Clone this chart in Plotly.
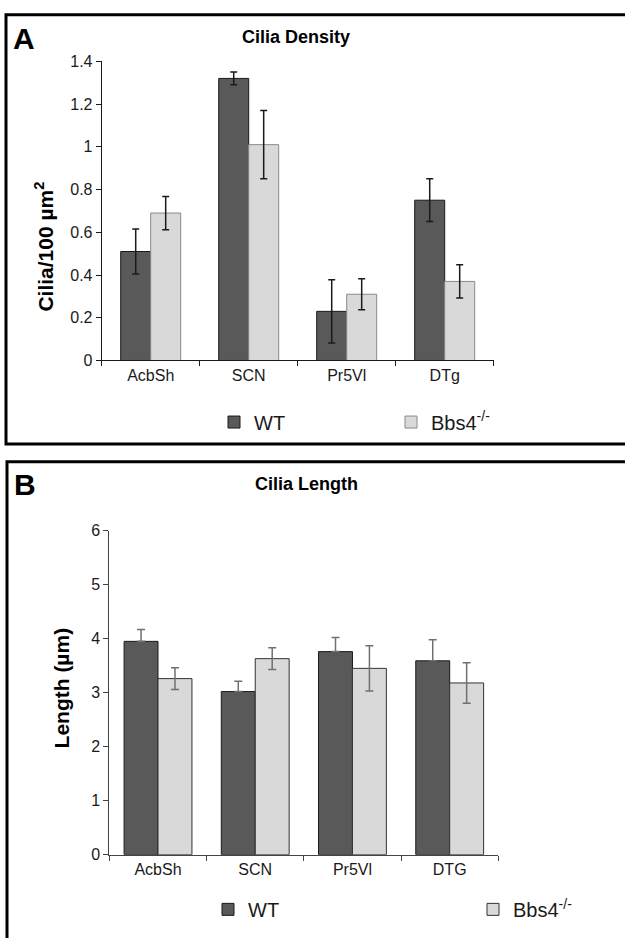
import plotly.graph_objects as go

# ---------------- data ----------------
categories_A = ["AcbSh", "SCN", "Pr5Vl", "DTg"]
density_wt = [0.51, 1.32, 0.23, 0.75]
density_wt_err = [0.105, 0.03, 0.148, 0.10]
density_bbs = [0.69, 1.01, 0.31, 0.37]
density_bbs_err = [0.078, 0.16, 0.072, 0.078]
yticks_A = [0, 0.2, 0.4, 0.6, 0.8, 1.0, 1.2, 1.4]
yticklabels_A = ["0", "0.2", "0.4", "0.6", "0.8", "1", "1.2", "1.4"]

categories_B = ["AcbSh", "SCN", "Pr5Vl", "DTG"]
length_wt = [3.95, 3.02, 3.76, 3.59]
length_wt_err = [0.22, 0.19, 0.26, 0.39]
length_bbs = [3.26, 3.63, 3.45, 3.18]
length_bbs_err = [0.20, 0.20, 0.42, 0.375]
yticks_B = [0, 1, 2, 3, 4, 5, 6]

series_names = ["WT", "Bbs4<sup>-/-</sup>"]

# ---------------- layout helpers ----------------
W, H = 625, 938
FONT = "Liberation Sans, Arial, sans-serif"


def px(x):
    return x / W


def py(y):
    return 1 - y / H


WT_FILL = "#595959"
KO_FILL = "#d9d9d9"

fig = go.Figure()

# Panel A bars
wA = 0.306
fig.add_trace(go.Bar(
    x=categories_A, y=density_wt, name=series_names[0], xaxis="x", yaxis="y",
    width=wA, offset=-wA,
    marker=dict(color=WT_FILL, line=dict(color="#1a1a1a", width=1)),
    error_y=dict(type="data", array=density_wt_err, color="#1a1a1a", thickness=1.5, width=3.5),
    legend="legend",
))
fig.add_trace(go.Bar(
    x=categories_A, y=density_bbs, name=series_names[1], xaxis="x", yaxis="y",
    width=wA, offset=0,
    marker=dict(color=KO_FILL, line=dict(color="#8a8a8a", width=1)),
    error_y=dict(type="data", array=density_bbs_err, color="#1a1a1a", thickness=1.5, width=3.5),
    legend="legend2",
))

# Panel B bars
wB = 0.349
fig.add_trace(go.Bar(
    x=categories_B, y=length_wt, name=series_names[0], xaxis="x2", yaxis="y2",
    width=wB, offset=-wB,
    marker=dict(color=WT_FILL, line=dict(color="#1a1a1a", width=1)),
    error_y=dict(type="data", symmetric=False, array=length_wt_err,
                 arrayminus=[0] * len(length_wt_err), color="#707070", thickness=1.5, width=4),
    legend="legend3",
))
fig.add_trace(go.Bar(
    x=categories_B, y=length_bbs, name=series_names[1], xaxis="x2", yaxis="y2",
    width=wB, offset=0,
    marker=dict(color=KO_FILL, line=dict(color="#333333", width=1)),
    error_y=dict(type="data", array=length_bbs_err, color="#707070", thickness=1.5, width=4),
    legend="legend4",
))

tickfont = dict(family=FONT, size=16, color="#1a1a1a")

xaxis_common = dict(
    type="category", tickson="boundaries", ticks="outside", ticklen=5,
    showline=True, linewidth=1, showgrid=False, zeroline=False,
    tickfont=tickfont, fixedrange=True,
)
yaxis_common = dict(
    ticks="outside", ticklen=5, showline=True, linewidth=1,
    showgrid=False, zeroline=False, tickfont=tickfont, fixedrange=True,
)

legend_font = dict(family=FONT, size=20, color="#1a1a1a")


def leg(xc, yc):
    # xc: symbol centre pixel, yc: vertical centre pixel
    return dict(x=px(xc - 20), y=py(yc), xanchor="left", yanchor="middle",
                orientation="h", font=legend_font, bgcolor="rgba(0,0,0,0)",
                borderwidth=0, itemclick=False, itemdoubleclick=False)


fig.update_layout(
    width=W, height=H,
    margin=dict(l=0, r=0, t=0, b=0),
    paper_bgcolor="white", plot_bgcolor="white",
    font=dict(family=FONT, color="#1a1a1a"),
    xaxis=dict(xaxis_common, domain=[px(101.7), px(493.7)], anchor="y",
               linecolor="#1a1a1a", tickcolor="#1a1a1a"),
    yaxis=dict(yaxis_common, domain=[py(359), py(54.3)], anchor="x",
               range=[0, 1.4], tickvals=yticks_A, ticktext=yticklabels_A,
               linecolor="#1a1a1a", tickcolor="#1a1a1a"),
    xaxis2=dict(xaxis_common, domain=[px(109.4), px(498.3)], anchor="y2",
                linecolor="#444444", tickcolor="#444444"),
    yaxis2=dict(yaxis_common, domain=[py(862.3), py(532.3)], anchor="x2",
                range=[0, 6], tickvals=yticks_B,
                linecolor="#444444", tickcolor="#444444"),
    showlegend=True,
    legend=leg(234, 421.7),
    legend2=leg(411, 421.7),
    legend3=leg(228, 918),
    legend4=leg(493, 918),
    bargap=0,
)

# panel frames
fig.add_shape(type="rect", xref="paper", yref="paper",
              x0=px(6), x1=px(640), y0=py(444), y1=py(7),
              line=dict(color="black", width=3), fillcolor="rgba(0,0,0,0)", layer="above")
fig.add_shape(type="rect", xref="paper", yref="paper",
              x0=px(7), x1=px(640), y0=py(960), y1=py(462),
              line=dict(color="black", width=3), fillcolor="rgba(0,0,0,0)", layer="above")

# annotations: panel letters, titles, y-axis titles
ann = [
    dict(text="<b>A</b>", x=px(24), y=py(31), font=dict(size=30)),
    dict(text="<b>B</b>", x=px(25), y=py(485), font=dict(size=30)),
    dict(text="<b>Cilia Density</b>", x=px(296), y=py(30), font=dict(size=18)),
    dict(text="<b>Cilia Length</b>", x=px(306), y=py(485), font=dict(size=18)),
    dict(text="<b>Cilia/100 µm<sup>2</sup></b>", x=px(44), y=py(243), textangle=-90,
         font=dict(size=21)),
    dict(text="<b>Length (µm)</b>", x=px(61), y=py(693), textangle=-90,
         font=dict(size=21)),
]
for a in ann:
    f = dict(family=FONT, color="black")
    f.update(a.pop("font"))
    fig.add_annotation(xref="paper", yref="paper", showarrow=False,
                       xanchor="center", yanchor="middle", font=f, **a)

fig.write_html(
    "out.html",
    config={"displayModeBar": False, "staticPlot": True},
    post_script="document.body.style.margin='0';document.body.style.overflow='hidden';",
)
